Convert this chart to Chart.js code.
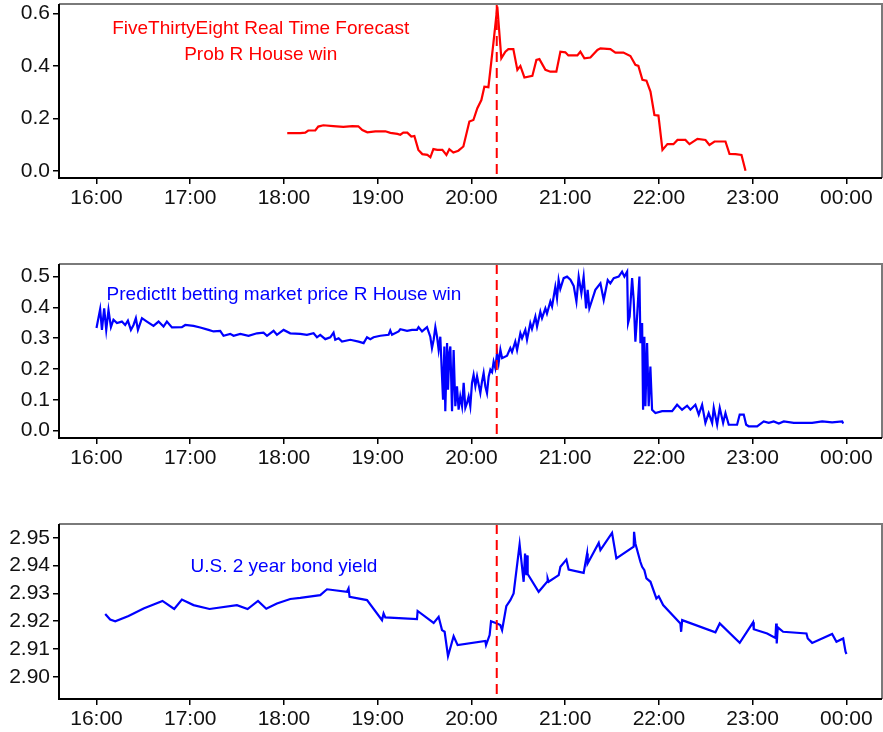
<!DOCTYPE html>
<html>
<head>
<meta charset="utf-8">
<script src="https://cdn.jsdelivr.net/npm/chart.js@4.4.0/dist/chart.umd.min.js"></script>
<style>
  html, body { margin: 0; padding: 0; background: #fff; overflow: hidden; width: 883px; height: 732px; }
  canvas { position: absolute; left: 0; }
</style>
</head>
<body>
<canvas id="fteChart" width="883" height="215" style="top:0px"></canvas>
<canvas id="piChart" width="883" height="215" style="top:260px"></canvas>
<canvas id="bondChart" width="883" height="216" style="top:520px"></canvas>
<script>
// times are decimal hours on election night (24 = midnight)
const hourTicks = [16, 17, 18, 19, 20, 21, 22, 23, 24];
const resultTime = 20.27; // red dashed line

// FiveThirtyEight real time forecast, prob R House win
const fteTimes = [18.035, 18.174, 18.227, 18.259, 18.334, 18.366, 18.420, 18.526, 18.633, 18.729,
  18.793, 18.836, 18.889, 18.975, 19.082, 19.135, 19.210, 19.241, 19.273, 19.316,
  19.359, 19.391, 19.434, 19.476, 19.530, 19.562, 19.594, 19.636, 19.690, 19.733,
  19.764, 19.807, 19.860, 19.914, 19.978, 20.021, 20.063, 20.106, 20.138, 20.181,
  20.234, 20.276, 20.319, 20.362, 20.394, 20.447, 20.490, 20.522, 20.565, 20.650,
  20.693, 20.725, 20.789, 20.842, 20.906, 20.949, 21.002, 21.034, 21.130, 21.162,
  21.205, 21.269, 21.344, 21.376, 21.482, 21.536, 21.621, 21.696, 21.749, 21.781,
  21.824, 21.867, 21.910, 21.952, 21.995, 22.038, 22.091, 22.155, 22.198, 22.283,
  22.326, 22.411, 22.497, 22.539, 22.593, 22.710, 22.753, 22.817, 22.881, 22.924];
const fteProb = [0.144, 0.144, 0.146, 0.154, 0.154, 0.169, 0.174, 0.171, 0.168, 0.171,
  0.170, 0.156, 0.147, 0.151, 0.151, 0.145, 0.141, 0.138, 0.146, 0.146,
  0.131, 0.133, 0.080, 0.064, 0.061, 0.052, 0.083, 0.080, 0.080, 0.061,
  0.083, 0.070, 0.077, 0.093, 0.188, 0.194, 0.239, 0.270, 0.321, 0.319,
  0.486, 0.626, 0.429, 0.454, 0.464, 0.464, 0.385, 0.400, 0.356, 0.362,
  0.423, 0.426, 0.385, 0.378, 0.378, 0.454, 0.452, 0.440, 0.440, 0.454,
  0.429, 0.432, 0.461, 0.467, 0.464, 0.451, 0.451, 0.438, 0.404, 0.400,
  0.347, 0.344, 0.302, 0.213, 0.211, 0.080, 0.102, 0.102, 0.118, 0.118,
  0.102, 0.122, 0.118, 0.099, 0.112, 0.112, 0.065, 0.064, 0.061, 0.001];

// PredictIt market price, R House win
const piTimes = [16.000, 16.039, 16.058, 16.082, 16.104, 16.128, 16.154, 16.181, 16.218, 16.271,
  16.306, 16.335, 16.367, 16.395, 16.420, 16.442, 16.485, 16.538, 16.608, 16.662,
  16.715, 16.751, 16.805, 16.911, 16.947, 17.035, 17.107, 17.195, 17.249, 17.320,
  17.355, 17.427, 17.462, 17.534, 17.622, 17.712, 17.782, 17.819, 17.889, 17.925,
  17.996, 18.067, 18.174, 18.245, 18.316, 18.352, 18.387, 18.441, 18.494, 18.529,
  18.547, 18.583, 18.619, 18.708, 18.796, 18.850, 18.886, 18.921, 18.956, 19.028,
  19.116, 19.134, 19.153, 19.223, 19.241, 19.313, 19.366, 19.419, 19.436, 19.473,
  19.526, 19.561, 19.579, 19.597, 19.615, 19.633, 19.650, 19.668, 19.686, 19.697,
  19.711, 19.721, 19.740, 19.750, 19.764, 19.775, 19.793, 19.810, 19.828, 19.846,
  19.863, 19.881, 19.900, 19.917, 19.935, 19.953, 19.970, 19.988, 20.006, 20.023,
  20.042, 20.060, 20.095, 20.113, 20.130, 20.148, 20.166, 20.184, 20.202, 20.220,
  20.237, 20.255, 20.273, 20.290, 20.309, 20.327, 20.380, 20.415, 20.433, 20.468,
  20.487, 20.522, 20.540, 20.575, 20.593, 20.628, 20.646, 20.682, 20.700, 20.735,
  20.753, 20.789, 20.806, 20.842, 20.860, 20.895, 20.913, 20.930, 20.948, 20.984,
  21.020, 21.056, 21.091, 21.120, 21.144, 21.173, 21.197, 21.223, 21.240, 21.258,
  21.287, 21.322, 21.376, 21.411, 21.454, 21.482, 21.518, 21.571, 21.607, 21.632,
  21.661, 21.671, 21.688, 21.714, 21.731, 21.749, 21.767, 21.792, 21.803, 21.821,
  21.831, 21.845, 21.856, 21.874, 21.891, 21.909, 21.927, 21.963, 22.034, 22.141,
  22.194, 22.247, 22.301, 22.336, 22.389, 22.425, 22.461, 22.496, 22.531, 22.568,
  22.585, 22.621, 22.649, 22.685, 22.710, 22.745, 22.834, 22.862, 22.905, 22.931,
  22.958, 23.048, 23.118, 23.172, 23.225, 23.279, 23.332, 23.439, 23.528, 23.635,
  23.742, 23.848, 23.955, 23.966];
const piPrice = [0.333, 0.394, 0.327, 0.397, 0.327, 0.392, 0.336, 0.360, 0.349, 0.354,
  0.343, 0.357, 0.327, 0.343, 0.365, 0.327, 0.365, 0.354, 0.340, 0.354,
  0.338, 0.354, 0.335, 0.336, 0.343, 0.340, 0.335, 0.327, 0.322, 0.324,
  0.308, 0.314, 0.308, 0.314, 0.308, 0.316, 0.318, 0.308, 0.324, 0.311,
  0.327, 0.316, 0.314, 0.311, 0.316, 0.303, 0.311, 0.297, 0.303, 0.318,
  0.295, 0.300, 0.289, 0.295, 0.289, 0.284, 0.303, 0.297, 0.303, 0.308,
  0.311, 0.325, 0.311, 0.322, 0.329, 0.324, 0.327, 0.327, 0.336, 0.322,
  0.336, 0.305, 0.268, 0.295, 0.336, 0.305, 0.262, 0.305, 0.176, 0.100,
  0.273, 0.063, 0.284, 0.133, 0.252, 0.273, 0.063, 0.262, 0.079, 0.144,
  0.068, 0.111, 0.079, 0.155, 0.074, 0.090, 0.111, 0.079, 0.155, 0.181,
  0.144, 0.176, 0.122, 0.160, 0.187, 0.144, 0.122, 0.176, 0.198, 0.190,
  0.224, 0.203, 0.252, 0.219, 0.262, 0.235, 0.243, 0.268, 0.255, 0.289,
  0.262, 0.316, 0.300, 0.327, 0.295, 0.349, 0.330, 0.370, 0.338, 0.386,
  0.365, 0.397, 0.380, 0.419, 0.403, 0.467, 0.430, 0.489, 0.460, 0.495,
  0.500, 0.490, 0.470, 0.419, 0.500, 0.446, 0.500, 0.397, 0.457, 0.397,
  0.424, 0.457, 0.478, 0.424, 0.489, 0.478, 0.495, 0.500, 0.516, 0.500,
  0.516, 0.349, 0.370, 0.495, 0.424, 0.289, 0.370, 0.500, 0.284, 0.349,
  0.068, 0.305, 0.079, 0.284, 0.079, 0.208, 0.068, 0.057, 0.063, 0.063,
  0.084, 0.068, 0.081, 0.068, 0.084, 0.052, 0.084, 0.025, 0.057, 0.025,
  0.074, 0.019, 0.074, 0.025, 0.057, 0.019, 0.019, 0.052, 0.052, 0.019,
  0.014, 0.014, 0.030, 0.025, 0.030, 0.023, 0.030, 0.025, 0.025, 0.025,
  0.030, 0.027, 0.030, 0.023];

// U.S. 2 year treasury yield
const bondTimes = [16.093, 16.146, 16.200, 16.342, 16.502, 16.704, 16.829, 16.911, 17.035, 17.206,
  17.498, 17.612, 17.723, 17.811, 17.925, 18.067, 18.174, 18.387, 18.459, 18.672,
  18.689, 18.700, 18.886, 19.046, 19.063, 19.081, 19.419, 19.426, 19.597, 19.650,
  19.686, 19.714, 19.750, 19.810, 19.853, 20.148, 20.156, 20.194, 20.209, 20.273,
  20.308, 20.327, 20.372, 20.415, 20.450, 20.514, 20.557, 20.572, 20.586, 20.593,
  20.600, 20.717, 20.807, 20.813, 20.824, 20.931, 20.949, 21.013, 21.037, 21.197,
  21.234, 21.240, 21.358, 21.376, 21.500, 21.546, 21.731, 21.735, 21.749, 21.802,
  21.821, 21.845, 21.867, 21.910, 21.973, 21.998, 22.045, 22.229, 22.237, 22.248,
  22.603, 22.649, 22.862, 23.005, 23.012, 23.155, 23.243, 23.251, 23.257, 23.268,
  23.325, 23.574, 23.588, 23.635, 23.848, 23.894, 23.966, 23.991, 24.001];
const bondYield = [2.9226, 2.9206, 2.9200, 2.9219, 2.9246, 2.9273, 2.9244, 2.9278, 2.9258, 2.9244,
  2.9258, 2.9244, 2.9273, 2.9245, 2.9264, 2.9280, 2.9284, 2.9294, 2.9315, 2.9306,
  2.9318, 2.9288, 2.9276, 2.9204, 2.9228, 2.9214, 2.9208, 2.9237, 2.9194, 2.9216,
  2.9168, 2.9162, 2.9074, 2.9146, 2.9114, 2.9129, 2.9114, 2.9150, 2.9200, 2.9192,
  2.9186, 2.9168, 2.9254, 2.9276, 2.9300, 2.9477, 2.9342, 2.9444, 2.9366, 2.9437,
  2.9370, 2.9306, 2.9342, 2.9354, 2.9342, 2.9366, 2.9396, 2.9422, 2.9386, 2.9374,
  2.9444, 2.9408, 2.9482, 2.9456, 2.9518, 2.9426, 2.9468, 2.9522, 2.9480, 2.9414,
  2.9396, 2.9384, 2.9354, 2.9342, 2.9282, 2.9290, 2.9258, 2.9192, 2.9162, 2.9204,
  2.9160, 2.9192, 2.9122, 2.9196, 2.9171, 2.9156, 2.9140, 2.9192, 2.9120, 2.9178,
  2.9162, 2.9156, 2.9138, 2.9122, 2.9154, 2.9126, 2.9138, 2.9090, 2.9082];

const fteTicks = [0.0, 0.2, 0.4, 0.6];
const piTicks = [0.0, 0.1, 0.2, 0.3, 0.4, 0.5];
const bondTicks = [2.90, 2.91, 2.92, 2.93, 2.94, 2.95];

const FONT = '"Liberation Sans", Arial, Helvetica, sans-serif';

function hourLabel(v) {
  return String(Math.round(v) % 24).padStart(2, "0") + ":00";
}

// dashed result line, text notes and the box round the panel
const panelPlugin = {
  id: "panel",
  afterDatasetsDraw(chart, args, opts) {
    const { ctx, chartArea: a } = chart;
    const x = chart.scales.x, y = chart.scales.y;
    ctx.save();

    const ex = x.getPixelForValue(resultTime);
    ctx.strokeStyle = "#ff0000";
    ctx.lineWidth = 2;
    ctx.setLineDash([10, 6]);
    ctx.beginPath();
    ctx.moveTo(ex, a.top);
    ctx.lineTo(ex, a.bottom);
    ctx.stroke();
    ctx.setLineDash([]);

    ctx.fillStyle = opts.color;
    ctx.font = "19px " + FONT;
    ctx.textAlign = "center";
    ctx.textBaseline = "alphabetic";
    opts.notes.forEach(n => ctx.fillText(n.text, x.getPixelForValue(n.x), y.getPixelForValue(n.y)));

    ctx.lineWidth = 2;
    ctx.strokeStyle = "#7a7a7a";
    ctx.beginPath();
    ctx.moveTo(a.left, a.top);
    ctx.lineTo(a.right, a.top);
    ctx.lineTo(a.right, a.bottom);
    ctx.stroke();
    ctx.strokeStyle = "#000";
    ctx.beginPath();
    ctx.moveTo(a.left, a.top);
    ctx.lineTo(a.left, a.bottom);
    ctx.lineTo(a.right, a.bottom);
    ctx.stroke();
    ctx.restore();
  }
};

function makePanel(el, times, values, color, yMin, yMax, yTicks, decimals, notes) {
  return new Chart(el, {
    type: "line",
    data: {
      datasets: [{
        data: times.map((t, i) => ({ x: t, y: values[i] })),
        borderColor: color,
        borderWidth: 2.2,
        pointRadius: 0,
        tension: 0,
        fill: false
      }]
    },
    options: {
      responsive: false,
      animation: false,
      events: [],
      layout: { padding: { top: 4, right: 1, left: 0, bottom: 0 } },
      plugins: {
        legend: { display: false },
        tooltip: { enabled: false },
        panel: { color, notes }
      },
      scales: {
        x: {
          type: "linear",
          min: 15.6,
          max: 24.38,
          afterBuildTicks: s => { s.ticks = hourTicks.map(v => ({ value: v })); },
          afterFit: s => { s.height = 37; s.paddingLeft = 0; s.paddingRight = 0; },
          grid: { drawOnChartArea: false, drawTicks: true, tickLength: 6, color: "#000", lineWidth: 1.5 },
          border: { display: false },
          ticks: {
            autoSkip: false, maxRotation: 0, padding: 2, color: "#111",
            font: { family: FONT, size: 21 },
            callback: hourLabel
          }
        },
        y: {
          min: yMin,
          max: yMax,
          afterBuildTicks: s => { s.ticks = yTicks.map(v => ({ value: v })); },
          afterFit: s => { s.width = 59; s.paddingTop = 0; s.paddingBottom = 0; },
          grid: { drawOnChartArea: false, drawTicks: true, tickLength: 6, color: "#000", lineWidth: 1.5 },
          border: { display: false },
          ticks: {
            padding: 3, color: "#111",
            font: { family: FONT, size: 21 },
            callback: v => v.toFixed(decimals)
          }
        }
      }
    },
    plugins: [panelPlugin]
  });
}

document.addEventListener("DOMContentLoaded", function () {
  makePanel(document.getElementById("fteChart"), fteTimes, fteProb, "#ff0000",
    -0.027, 0.636, fteTicks, 1,
    [{ text: "FiveThirtyEight Real Time Forecast", x: 17.752, y: 0.522 },
     { text: "Prob R House win", x: 17.752, y: 0.423 }]);

  makePanel(document.getElementById("piChart"), piTimes, piPrice, "#0000ff",
    -0.024, 0.541, piTicks, 1,
    [{ text: "PredictIt betting market price R House win", x: 18.0, y: 0.424 }]);

  makePanel(document.getElementById("bondChart"), bondTimes, bondYield, "#0000ff",
    2.892, 2.955, bondTicks, 2,
    [{ text: "U.S. 2 year bond yield", x: 18.0, y: 2.9378 }]);
});
</script>
</body>
</html>
